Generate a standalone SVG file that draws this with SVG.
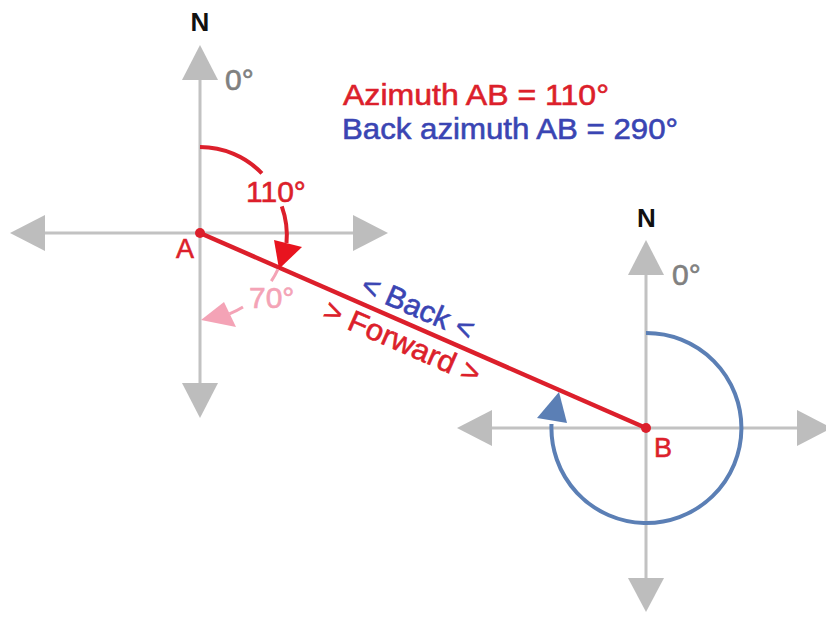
<svg xmlns="http://www.w3.org/2000/svg" width="826" height="617" viewBox="0 0 826 617">
  <style>
    .axis { stroke: #c2c2c2; stroke-width: 3; fill: none; }
    .ahead { fill: #bdbdbd; }
    .t { font-family: "Liberation Sans", Arial, sans-serif; font-size: 30px; stroke-width: 0.6px; }
    .n { font-family: "Liberation Sans", Arial, sans-serif; font-size: 26px; font-weight: bold; fill: #111; text-anchor: middle; }
    .deg { fill: #808080; stroke: #808080; }
    .red { fill: #dc1f2b; stroke: #dc1f2b; }
    .blue { fill: #3a45b3; stroke: #3a45b3; }
    .pink { fill: #f4a3b6; stroke: #f4a3b6; }
  </style>
  <rect width="826" height="617" fill="#ffffff"/>

  <g id="crossA">
    <path class="axis" d="M200,75 V388 M45,233 H355"/>
    <polygon class="ahead" points="200,45 182,80 218,80"/>
    <polygon class="ahead" points="200,418 182,383 218,383"/>
    <polygon class="ahead" points="10,233 45,215 45,251"/>
    <polygon class="ahead" points="388,233 353,215 353,251"/>
    <text class="n" x="200" y="31">N</text>
    <text class="t deg" x="225" y="90">0°</text>
  </g>

  <g id="crossB">
    <path class="axis" d="M646,272 V582 M490,428 H800"/>
    <polygon class="ahead" points="646,240 628,275 664,275"/>
    <polygon class="ahead" points="646,612 628,578 664,578"/>
    <polygon class="ahead" points="457,428 492,410 492,446"/>
    <polygon class="ahead" points="832,428 797,410 797,446"/>
    <text class="n" x="646.5" y="227">N</text>
    <text class="t deg" x="672" y="285">0°</text>
  </g>

  <g id="connectors">
    <line x1="200" y1="233" x2="646" y2="428" stroke="#dc1f2b" stroke-width="4.5"/>
    <!-- azimuth arc at A -->
    <path d="M200,147 A86,86 0 0 1 261.9,173.3" fill="none" stroke="#dc1f2b" stroke-width="4"/>
    <path d="M281.8,206.4 A86,86 0 0 1 286.5,243" fill="none" stroke="#dc1f2b" stroke-width="4"/>
    <polygon points="274,240 302,247 279,269" fill="#e8141f"/>
    <!-- 70 degree pink arc -->
    <path d="M277.9,269.3 A86,86 0 0 1 271.3,281.1" fill="none" stroke="#f4a3b6" stroke-width="3"/>
    <path d="M243,307 A86,86 0 0 1 229.4,313.8" fill="none" stroke="#f4a3b6" stroke-width="3"/>
    <polygon points="224,302 236,327 201,320" fill="#f4a3b6"/>
    <!-- back azimuth arc at B -->
    <path d="M646,333 A95,95 0 1 1 551.5,424" fill="none" stroke="#5b7fb5" stroke-width="4"/>
    <polygon points="537,418 567,423 559,392" fill="#5b7fb5"/>
  </g>

  <g id="pointA">
    <circle cx="200" cy="233" r="5" fill="#dc1f2b"/>
    <text class="t red" x="176" y="258" style="font-size:27px">A</text>
  </g>
  <g id="pointB">
    <circle cx="646" cy="428" r="5" fill="#dc1f2b"/>
    <text class="t red" x="654" y="457" style="font-size:27px">B</text>
  </g>

  <g id="labels">
    <text class="t red" x="246" y="202">110°</text>
    <text class="t pink" x="249" y="308">70°</text>
    <text class="t red" x="343" y="105" textLength="266" lengthAdjust="spacingAndGlyphs">Azimuth AB = 110°</text>
    <text class="t blue" x="342" y="139" textLength="336" lengthAdjust="spacingAndGlyphs">Back azimuth AB = 290°</text>
    <g transform="translate(200,233) rotate(23.6)">
      <text class="t blue" x="229.5" y="-9" text-anchor="middle" textLength="120" lengthAdjust="spacingAndGlyphs">&lt; Back &lt;</text>
      <text class="t red" x="229" y="29" text-anchor="middle" textLength="168" lengthAdjust="spacingAndGlyphs">&gt; Forward &gt;</text>
    </g>
  </g>
</svg>
